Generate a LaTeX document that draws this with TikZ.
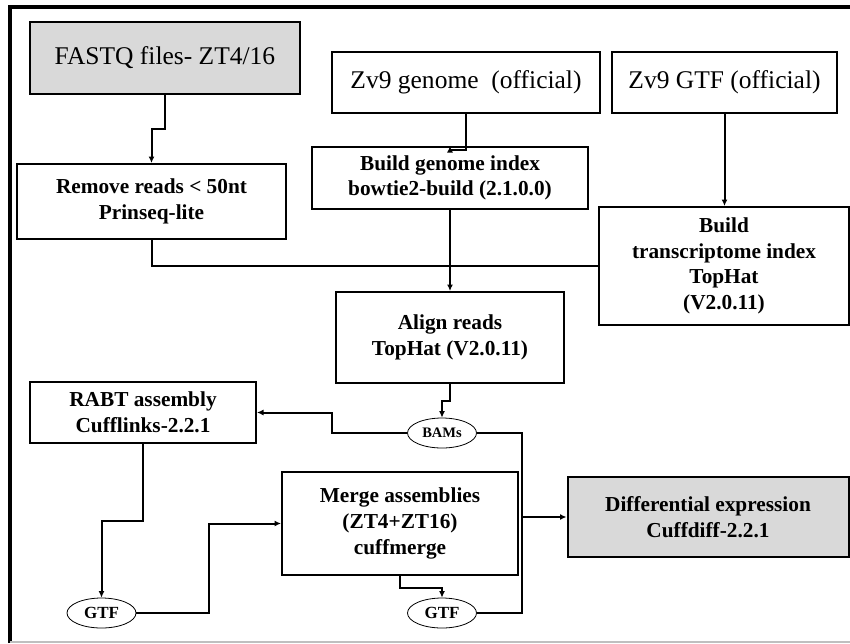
\documentclass[tikz,border=0pt]{standalone}
\usepackage{fontspec}
\setmainfont{Liberation Serif}
\usetikzlibrary{arrows.meta,shapes.geometric}

\tikzset{
    box/.style={draw, line width=2pt, align=center, inner sep=0pt,
        font=\fontsize{21.3}{25.6}\selectfont\bfseries},
    greybox/.style={box, fill=black!15},
    topbox/.style={box, font=\fontsize{25.5}{29}\selectfont},
    oval/.style={draw, ellipse, line width=0.8pt, inner sep=0pt,
        minimum width=69pt, minimum height=30pt,
        font=\fontsize{17}{19}\selectfont\bfseries},
    link/.style={line width=2pt},
}

\begin{document}
\begin{tikzpicture}[x=1pt, y=-1pt, >={Latex[length=6.5pt,width=6pt]}]
    \useasboundingbox (0,0) rectangle (850,643);
    % frame
    \draw[line width=3.5pt] (10,643) -- (10,7) -- (850,7);
    \draw[black!25, line width=1.2pt] (10,642) -- (850,642);

    % inputs
    \node[greybox, topbox, fill=black!15, minimum width=270pt, minimum height=72pt] (fastq) at (165,58) {FASTQ files-\ ZT4/16};
    \node[topbox, minimum width=268pt, minimum height=61pt] (genome) at (466,82.5) {Zv9 genome\ \ (official)};
    \node[topbox, minimum width=225pt, minimum height=61pt] (gtf) at (724.5,82.5) {Zv9 GTF (official)};

    % processing
    \node[box, minimum width=269pt, minimum height=75pt] (remove) at (151.5,201.5) {Remove reads < 50nt\\Prinseq-lite};
    \node[box, minimum width=276pt, minimum height=62pt] (index) at (450,178) {Build genome index\\bowtie2-build (2.1.0.0)};
    \node[box, minimum width=250pt, minimum height=118pt] (trans) at (724,266) {Build\\transcriptome index\\TopHat\\(V2.0.11)};
    \node[box, minimum width=228pt, minimum height=91pt] (align) at (450,337.5) {Align reads\\TopHat (V2.0.11)};
    \node[box, minimum width=226pt, minimum height=61pt] (rabt) at (143,412.5) {RABT assembly\\Cufflinks-2.2.1};
    \node[box, minimum width=236pt, minimum height=103pt] (merge) at (400,523.5) {Merge assemblies\\(ZT4+ZT16)\\cuffmerge};
    \node[greybox, minimum width=281pt, minimum height=80pt] (diff) at (708,517) {Differential expression\\Cuffdiff-2.2.1};

    % files
    \node[oval, font=\fontsize{14.5}{17}\selectfont\bfseries] (bams) at (442,433) {BAMs};
    \node[oval] (gtfa) at (101.5,613) {GTF};
    \node[oval] (gtfb) at (442,613) {GTF};
    \coordinate (bus) at (522,517);

    % connectors
    \draw[link, ->] (fastq.south) -- ++(0,34) -| (remove.north);
    \draw[link, ->] (genome.south) -- ++(0,36) -| (index.north);
    \draw[link, ->] (gtf.south) -- (gtf.south |- trans.north);
    \draw[link] (remove.south) |- (trans.west);
    \draw[link, ->] (index.south) -- (align.north);
    \draw[link, ->] (align.south) -- ++(0,17) -| (bams.north);
    \draw[link, ->] (bams.west) -- ++(-75,0) |- (rabt.east);
    \draw[link] (bams.east) -| (bus) |- (gtfb.east);
    \draw[link, ->] (bus) -- (diff.west);
    \draw[link, ->] (rabt.south) -- ++(0,77) -| (gtfa.north);
    \draw[link, ->] (gtfa.east) -- ++(73,0) |- (merge.west);
    \draw[link, ->] (merge.south) -- ++(0,12) -| (gtfb.north);
\end{tikzpicture}
\end{document}
